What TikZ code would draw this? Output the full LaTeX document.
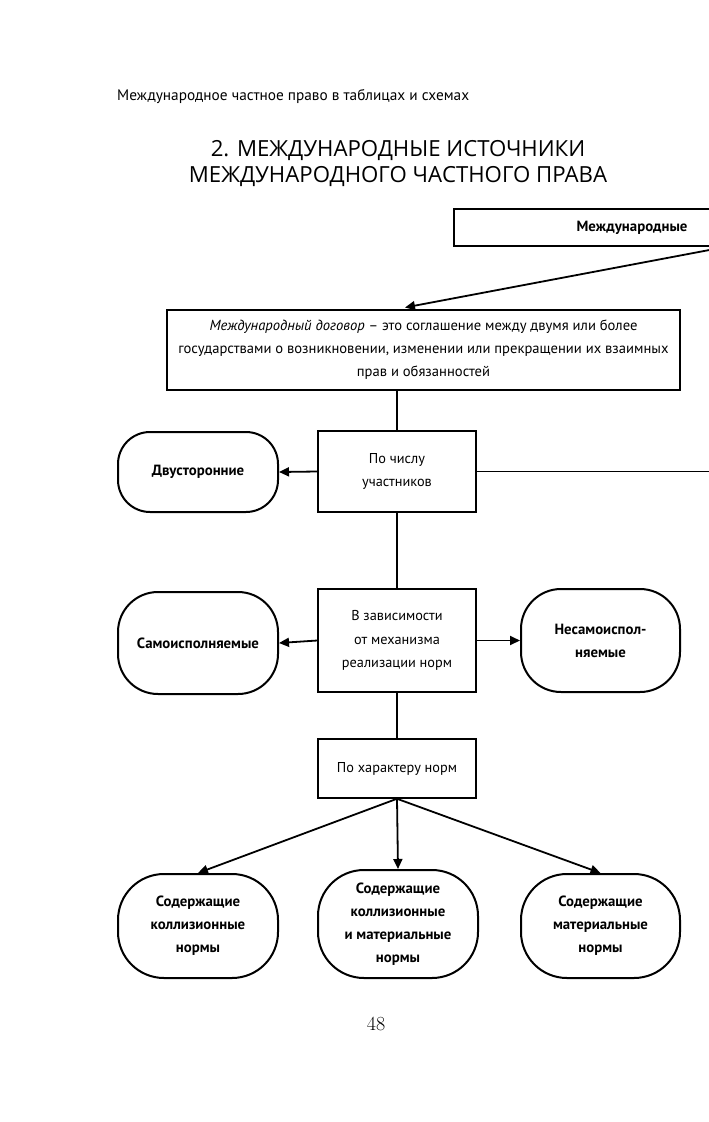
\documentclass[tikz,border=0pt]{standalone}
\usepackage{fontspec}
\setsansfont{PT Sans}
\newfontfamily\titlefont{Open Sans}
\usetikzlibrary{arrows.meta}
\begin{document}
\begin{tikzpicture}[x=1pt,y=-1pt,
  every node/.style={font=\sffamily\fontsize{14.3}{23.5}\selectfont, align=center, inner sep=0pt},
  heavybox/.style={draw, line width=2.8pt, minimum width=#1},
  lightbox/.style={draw, line width=1.5pt, minimum width=158pt},
  blob/.style={draw, line width=2pt, rounded corners=#1, font=\sffamily\bfseries\fontsize{14.8}{23}\selectfont},
  link/.style={line width=1.8pt},
  arr/.style={line width=1.8pt, -{Triangle[length=10pt,width=9pt]}}]
\useasboundingbox (0,0) rectangle (709,1122);

\node[anchor=west, font=\sffamily\fontsize{15.3}{16}\selectfont] (hdr) at (117,97) {Международное частное право в таблицах и схемах};
\node[font=\titlefont\fontsize{22.2}{26}\selectfont] (ttl) at (398,164) {2. МЕЖДУНАРОДНЫЕ ИСТОЧНИКИ\\МЕЖДУНАРОДНОГО ЧАСТНОГО ПРАВА};

\node[heavybox=356pt, minimum height=37pt, font=\sffamily\bfseries\fontsize{14.8}{16}\selectfont] (top) at (632,227.5) {Международные};
\node[heavybox=513pt, minimum height=80pt, font=\sffamily\fontsize{14.6}{23}\selectfont] (main) at (423.5,350) {\textit{Международный договор} -- это соглашение между двумя или более\\государствами о возникновении, изменении или прекращении их взаимных\\прав и обязанностей};

\node[lightbox, minimum height=81pt] (num) at (397,471.5) {По числу\\участников};
\node[lightbox, minimum height=103pt] (mech) at (397,640.5) {В зависимости\\от механизма\\реализации норм};
\node[lightbox, minimum height=59pt] (kind) at (397,768.5) {По характеру норм};

\node[blob=32pt, minimum width=160pt, minimum height=80pt] (bi) at (198,472) {Двусторонние};
\node[blob=40pt, minimum width=160pt, minimum height=102pt] (self) at (198,643) {Самоисполняемые};
\node[blob=40pt, minimum width=159pt, minimum height=103pt] (nonself) at (600.5,640.5) {Несамоиспол-\\няемые};

\node[blob=46pt, minimum width=160pt, minimum height=104pt] (k1) at (198,926) {Содержащие\\коллизионные\\нормы};
\node[blob=46pt, minimum width=160pt, minimum height=108pt] (k2) at (398,924) {Содержащие\\коллизионные\\и материальные\\нормы};
\node[blob=46pt, minimum width=159pt, minimum height=104pt] (k3) at (600.5,926) {Содержащие\\материальные\\нормы};

\node[font=\rmfamily\fontsize{20}{20}\selectfont] (page) at (376,1024) {48};

\coordinate (tin) at (712,249.5);
\coordinate (mtip) at (405,307.5);
\coordinate (rout) at (712,471.5);

\draw[arr] (tin) -- (mtip);
\draw[link] (main.south -| num.north) -- (num.north);
\draw[link] (num.south) -- (mech.north);
\draw[link] (mech.south) -- (kind.north);
\draw[link] (num.east) -- (rout);
\draw[arr] (num.west) -- (bi.east);
\draw[arr] (mech.west) -- (self.east);
\draw[arr] (mech.east) -- (nonself.west);
\draw[arr] (kind.south) -- (k1.north);
\draw[arr] (kind.south) -- (k2.north);
\draw[arr] (kind.south) -- (k3.north);
\end{tikzpicture}
\end{document}
